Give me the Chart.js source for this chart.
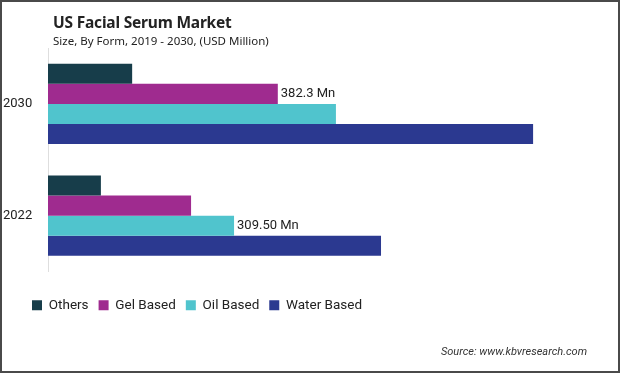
<!DOCTYPE html>
<html>
<head>
<meta charset="utf-8">
<script src="https://cdn.jsdelivr.net/npm/chart.js@4"></script>
<style>
  html, body { margin: 0; padding: 0; background: #fff; }
  #frame { position: relative; width: 620px; height: 373px; box-sizing: border-box; border: 2px solid #4a4a4a; overflow: hidden; }
  #chartBox { position: absolute; left: -2px; top: -2px; width: 620px; height: 373px; }
  .title { position: absolute; left: 51px; top: 9px; font: bold 15.5px "Noto Sans", sans-serif; color: #222; letter-spacing: -0.2px; }
  .subtitle { position: absolute; left: 51px; top: 31px; font: 11.5px "Noto Sans", sans-serif; color: #222; }
  .source { position: absolute; right: 31px; top: 343px; font: italic 11px "Liberation Sans Narrow", "Roboto", sans-serif; color: #333; }
</style>
</head>
<body>
<div id="frame">
  <div id="chartBox"><canvas id="myChart" width="620" height="373"></canvas></div>
  <div class="title">US Facial Serum Market</div>
  <div class="subtitle">Size, By Form, 2019 - 2030, (USD Million)</div>
  <div class="source">Source: www.kbvresearch.com</div>
</div>
<script>
const years = ['2030', '2022'];
const others = [140, 88];
const gelBased = [382.3, 238];
const oilBased = [479, 309.5];
const waterBased = [807, 554];
// value labels shown on the chart (null = no label)
const gelLabels = ['382.3 Mn', null];
const oilLabels = [null, '309.50 Mn'];

const labelFont = '"Liberation Sans Narrow", "Roboto", sans-serif';

const valueLabels = {
  id: 'valueLabels',
  afterDatasetsDraw(chart) {
    const ctx = chart.ctx;
    ctx.save();
    ctx.font = '13px ' + labelFont;
    ctx.fillStyle = '#222';
    ctx.textBaseline = 'middle';
    ctx.textAlign = 'left';
    chart.data.datasets.forEach((ds, i) => {
      if (!ds.valueLabels) return;
      chart.getDatasetMeta(i).data.forEach((bar, j) => {
        const txt = ds.valueLabels[j];
        if (txt) ctx.fillText(txt, bar.x + 3, bar.y);
      });
    });
    ctx.restore();
  }
};

// legend sits a bit right of the canvas edge in the original
const legendShift = {
  id: 'legendShift',
  afterLayout(chart) {
    chart.legend.left += 19;
  }
};

document.addEventListener('DOMContentLoaded', () => {
  const ctx = document.getElementById('myChart').getContext('2d');
  new Chart(ctx, {
    type: 'bar',
    data: {
      labels: years,
      datasets: [
        { label: 'Others', data: others, backgroundColor: '#173d4a' },
        { label: 'Gel Based', data: gelBased, backgroundColor: '#9f2b8f', valueLabels: gelLabels },
        { label: 'Oil Based', data: oilBased, backgroundColor: '#50c4cd', valueLabels: oilLabels },
        { label: 'Water Based', data: waterBased, backgroundColor: '#2b3990' }
      ]
    },
    options: {
      indexAxis: 'y',
      responsive: false,
      animation: false,
      layout: { padding: { top: 48, bottom: 51, left: 3, right: 31 } },
      datasets: { bar: { barPercentage: 1, categoryPercentage: 0.72 } },
      scales: {
        x: {
          min: 0, max: 900,
          ticks: { display: false },
          grid: { display: false },
          border: { display: false },
          afterFit: s => { s.height = 17; }
        },
        y: {
          ticks: { color: '#222', font: { size: 13, family: labelFont }, crossAlign: 'far', padding: 14 },
          grid: { display: false },
          border: { display: true, color: '#dedede', width: 1 },
          afterFit: s => { s.width = 45; }
        }
      },
      plugins: {
        legend: {
          position: 'bottom',
          align: 'start',
          labels: {
            boxWidth: 10, boxHeight: 10, padding: 10,
            color: '#222',
            font: { size: 13.5, family: labelFont }
          }
        },
        tooltip: { enabled: false }
      }
    },
    plugins: [valueLabels, legendShift]
  });
});
</script>
</body>
</html>
